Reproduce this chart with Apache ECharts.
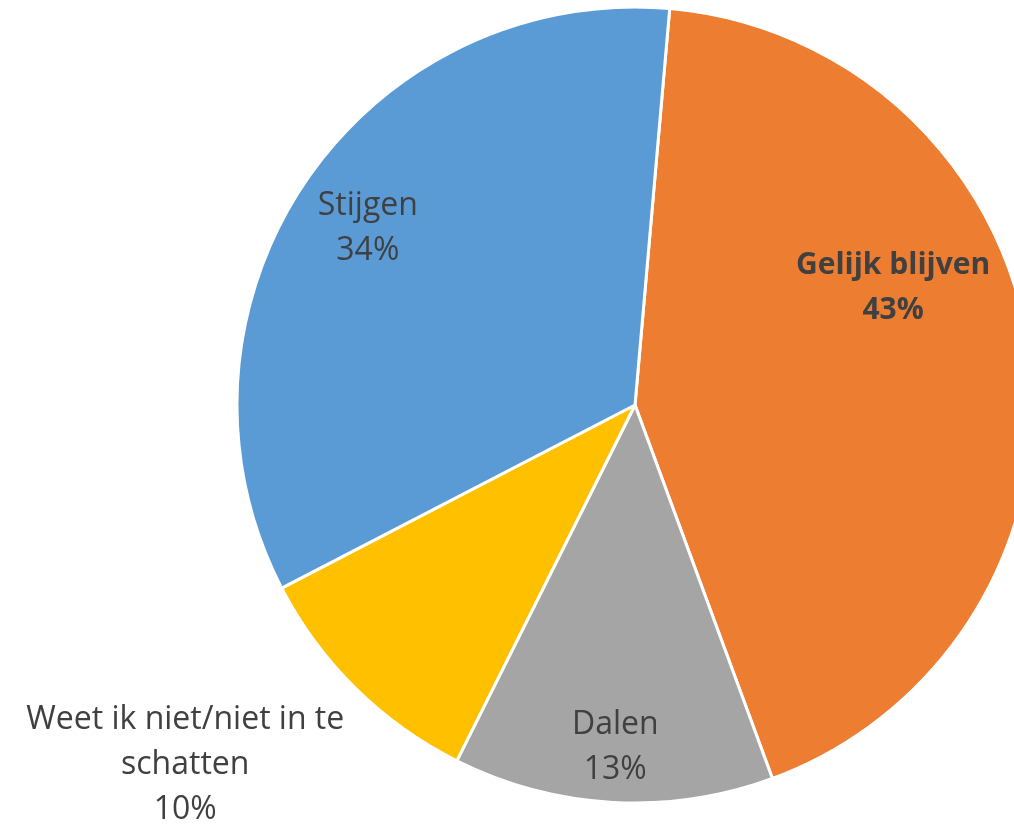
<!DOCTYPE html>
<html>
<head>
    <meta charset="utf-8">
    <title>Verwachting</title>
    <script src="https://cdn.jsdelivr.net/npm/echarts@6/dist/echarts.min.js"></script>
    <style>
        html, body { margin: 0; padding: 0; background: #fff; }
    </style>
</head>
<body>
    <div id="main" style="width: 1014px;height:826px;"></div>
    <script type="text/javascript">
        // categories and shares (percent)
        var categories = ['Gelijk blijven', 'Dalen', 'Weet ik niet/niet in te\nschatten', 'Stijgen'];
        var shares = [43, 13, 10, 34];
        var colors = ['#ED7D31', '#A5A5A5', '#FFC000', '#5B9BD5'];
        // where each label sits: [angle clockwise from top, fraction of radius]
        var labelSpots = [[65.6, 0.712], [183.3, 0.861], [231.3, 1.448], [303.5, 0.805]];

        var cx = 635, cy = 405, radius = 398;

        var myChart = echarts.init(document.getElementById('main'));

        var seriesData = categories.map(function (name, i) {
            var item = {
                name: name,
                value: shares[i],
                itemStyle: { color: colors[i] }
            };
            if (i === 0) {
                item.label = { fontWeight: 'bold', fontSize: 30 };
            }
            return item;
        });

        var option = {
            animation: false,
            series: [
                {
                    type: 'pie',
                    center: [cx, cy],
                    radius: radius,
                    startAngle: 85,
                    clockwise: true,
                    data: seriesData,
                    itemStyle: { borderColor: '#fff', borderWidth: 3 },
                    label: {
                        show: true,
                        position: 'inside',
                        formatter: '{b}\n{d}%',
                        fontFamily: 'Open Sans',
                        fontSize: 32,
                        lineHeight: 45,
                        color: '#404040',
                        align: 'center'
                    },
                    labelLine: { show: false },
                    labelLayout: function (params) {
                        var spot = labelSpots[params.dataIndex];
                        var a = spot[0] * Math.PI / 180;
                        var r = spot[1] * radius;
                        return {
                            x: cx + r * Math.sin(a),
                            y: cy - r * Math.cos(a),
                            align: 'center',
                            verticalAlign: 'middle'
                        };
                    }
                }
            ]
        };

        myChart.setOption(option);
    </script>
</body>
</html>
